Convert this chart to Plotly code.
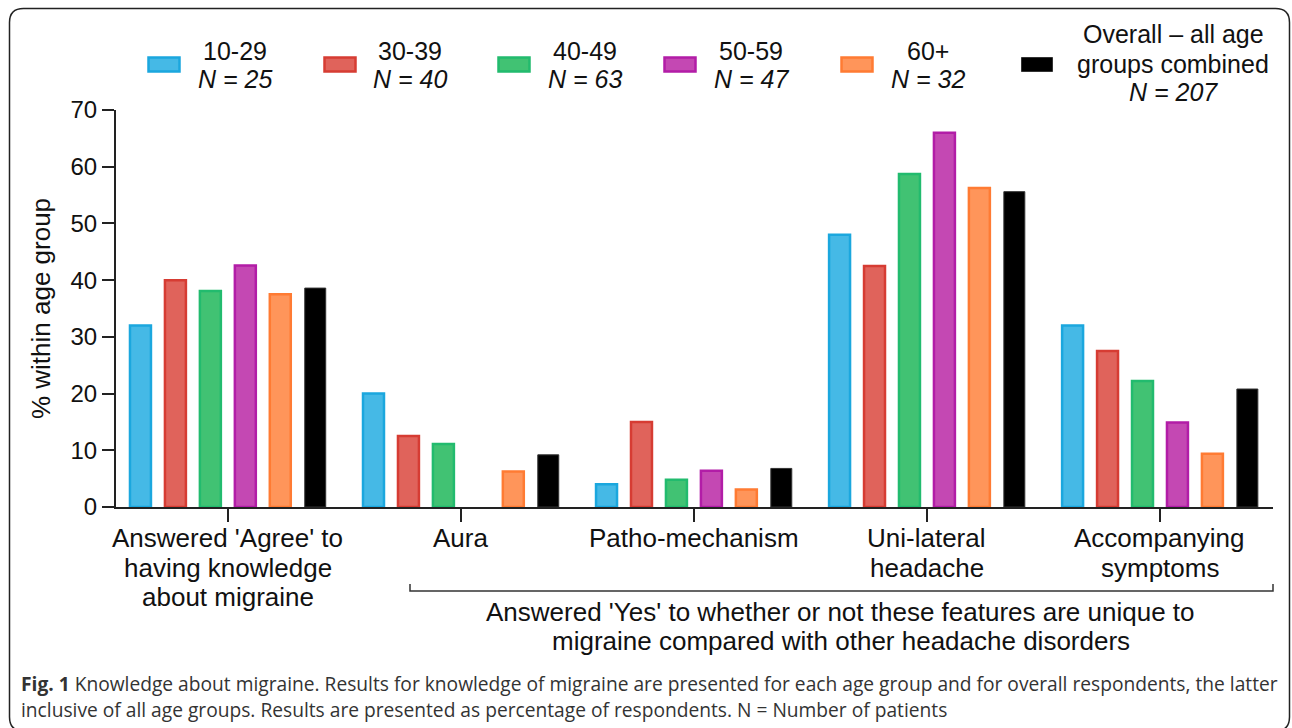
import plotly.graph_objects as go

# ---------------- data ----------------
category_lines = [
    ["Answered 'Agree' to", "having knowledge", "about migraine"],
    ["Aura"],
    ["Patho-mechanism"],
    ["Uni-lateral", "headache"],
    ["Accompanying", "symptoms"],
]
series_names = ["10-29", "30-39", "40-49", "50-59", "60+", "Overall – all age groups combined"]
series_n = [25, 40, 63, 47, 32, 207]

vals_10_29 = [32.0, 20.0, 4.0, 48.0, 32.0]
vals_30_39 = [40.0, 12.5, 15.0, 42.5, 27.5]
vals_40_49 = [38.1, 11.1, 4.8, 58.7, 22.2]
vals_50_59 = [42.6, 0.0, 6.4, 66.0, 14.9]
vals_60p = [37.5, 6.25, 3.1, 56.25, 9.4]
vals_overall = [38.6, 9.2, 6.8, 55.6, 20.8]
series_values = [vals_10_29, vals_30_39, vals_40_49, vals_50_59, vals_60p, vals_overall]

fill_colors = ["#45b9e6", "#e0635b", "#41c273", "#c448b3", "#ff955a", "#000000"]
line_colors = ["#1ba7de", "#d63c33", "#22bb6e", "#b21da7", "#ff7b33", "#333333"]

y_ticks = [0, 10, 20, 30, 40, 50, 60, 70]

bracket_text = ["Answered 'Yes' to whether or not these features are unique to",
                "migraine compared with other headache disorders"]
caption_lines = ["<b>Fig. 1</b> Knowledge about migraine. Results for knowledge of migraine are presented for each age group and for overall respondents, the latter",
                 "inclusive of all age groups. Results are presented as percentage of respondents. N = Number of patients"]

# ---------------- geometry helpers (pixel -> paper) ----------------
W, H = 1292, 728
PX0, PX1, PY0, PY1 = 116, 1273, 110, 507  # plot area in pixels


def px(x):
    return (x - PX0) / (PX1 - PX0)


def py(y):
    return (PY1 - y) / (PY1 - PY0)


FONT = "Liberation Sans, Arial, sans-serif"

fig = go.Figure()
xs = list(range(len(category_lines)))
for i, name in enumerate(series_names):
    base_w = 2.5 if i < 5 else 1
    fig.add_trace(go.Bar(
        x=xs, y=series_values[i], name=name,
        marker=dict(color=fill_colors[i],
                    line=dict(color=line_colors[i],
                              width=[base_w if v > 0 else 0 for v in series_values[i]])),
        showlegend=False,
    ))

shapes = []
annotations = []

# outer rounded border
L, R, T, B, r = 9.5, 1289.5, 8.5, 731, 14
path = (f"M {px(L+r)},{py(T)} L {px(R-r)},{py(T)} Q {px(R)},{py(T)} {px(R)},{py(T+r)} "
        f"L {px(R)},{py(B-r)} Q {px(R)},{py(B)} {px(R-r)},{py(B)} "
        f"L {px(L+r)},{py(B)} Q {px(L)},{py(B)} {px(L)},{py(B-r)} "
        f"L {px(L)},{py(T+r)} Q {px(L)},{py(T)} {px(L+r)},{py(T)} Z")
shapes.append(dict(type="path", xref="paper", yref="paper", path=path,
                   line=dict(color="#222222", width=1.5), layer="below"))

# category labels (multi-line, under the axis ticks)
line_y = [538, 568, 597]
for ci, lines in enumerate(category_lines):
    for li, txt in enumerate(lines):
        annotations.append(dict(xref="x", yref="paper", x=xs[ci], y=py(line_y[li]),
                                text=txt, showarrow=False, xanchor="center", yanchor="middle",
                                font=dict(family=FONT, size=26, color="#111")))

# bracket under features
bx0, bx1, by, byt = 410, 1273, 591, 584
shapes.append(dict(type="path", xref="paper", yref="paper",
                   path=f"M {px(bx0)},{py(byt)} L {px(bx0)},{py(by)} L {px(bx1)},{py(by)} L {px(bx1)},{py(byt)}",
                   line=dict(color="#333333", width=1.5)))
for li, txt in enumerate(bracket_text):
    annotations.append(dict(xref="paper", yref="paper", x=px(841), y=py([612, 641][li]),
                            text=txt, showarrow=False, xanchor="center", yanchor="middle",
                            font=dict(family=FONT, size=26, color="#111")))

# legend (custom)
sw_x0 = [147, 323, 497, 663, 840, 1020]
text_cx = [235, 410, 585, 751, 928, 1173]
for i in range(6):
    shapes.append(dict(type="rect", xref="paper", yref="paper",
                       x0=px(sw_x0[i] + 1.5), x1=px(sw_x0[i] + 32.5), y0=py(71.5), y1=py(57.5),
                       fillcolor=fill_colors[i], line=dict(color=line_colors[i], width=2.5 if i < 5 else 1)))
    if i < 5:
        lines = [(series_names[i], 50.5, False), (f"N = {series_n[i]}", 78.5, True)]
    else:
        lines = [("Overall – all age", 34.5, False), ("groups combined", 63.5, False),
                 (f"N = {series_n[i]}", 91.5, True)]
    for txt, yy, ital in lines:
        annotations.append(dict(xref="paper", yref="paper", x=px(text_cx[i]), y=py(yy),
                                text=f"<i>{txt}</i>" if ital else txt, showarrow=False,
                                xanchor="center", yanchor="middle",
                                font=dict(family=FONT, size=25, color="#111")))

# caption
CAP = "Open Sans, Noto Sans, sans-serif"
for li, txt in enumerate(caption_lines):
    annotations.append(dict(xref="paper", yref="paper", x=px(19), y=py([683, 709][li]),
                            text=txt, showarrow=False, xanchor="left", yanchor="middle",
                            font=dict(family=CAP, size=19.2, color="#333")))

fig.update_layout(
    width=W, height=H,
    margin=dict(l=PX0, r=W - PX1, t=PY0, b=H - PY1, autoexpand=False),
    paper_bgcolor="white", plot_bgcolor="white",
    barmode="group", bargap=0.1, bargroupgap=0.4,
    shapes=shapes, annotations=annotations,
    font=dict(family=FONT, color="#111"),
)
fig.update_xaxes(
    range=[-0.48, 4.485], tickmode="array", tickvals=xs, ticktext=["" for _ in xs],
    showline=True, linecolor="#222", linewidth=2,
    ticks="outside", ticklen=13, tickwidth=1.5, tickcolor="#222",
    showgrid=False, zeroline=False, automargin=False, fixedrange=True,
)
fig.update_yaxes(
    range=[0, 70], tickmode="array", tickvals=y_ticks,
    showline=True, linecolor="#222", linewidth=2,
    ticks="outside", ticklen=12, tickwidth=2, tickcolor="#222",
    tickfont=dict(family=FONT, size=24, color="#111"),
    title=dict(text="% within age group", font=dict(family=FONT, size=26, color="#111"), standoff=12),
    showgrid=False, zeroline=False, automargin=False, fixedrange=True,
)

fig.write_html("out.html", config={"displayModeBar": False},
               post_script="document.body.style.margin='0';")
